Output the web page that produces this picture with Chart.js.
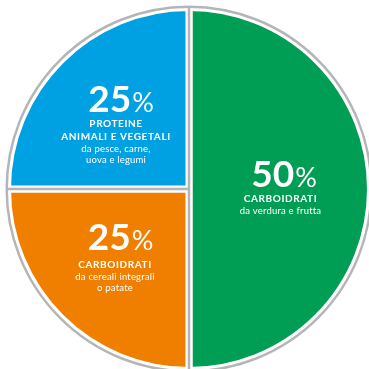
<!DOCTYPE html>
<html><head><meta charset="utf-8">
<script src="https://cdn.jsdelivr.net/npm/chart.js@4"></script>
<style>html,body{margin:0;padding:0;background:#fff;overflow:hidden}#wrap{width:369px;height:369px;position:relative}</style>
</head><body><div id="wrap"><canvas id="c"></canvas></div>
<script>
const categories = ['Carboidrati da verdura e frutta', 'Carboidrati da cereali integrali o patate', 'Proteine animali e vegetali'];
const values = [50, 25, 25];
const percentLabels = ['50', '25', '25'];
const titleLines = [['CARBOIDRATI'], ['CARBOIDRATI'], ['PROTEINE', 'ANIMALI E VEGETALI']];
const subLines = [['da verdura e frutta'], ['da cereali integrali', 'o patate'], ['da pesce, carne,', 'uova e legumi']];
const colors = ['#009e54', '#f07f00', '#00a1e2'];

// label layout (offsets from pie centre, px at reference size)
const labelLayout = [
  {numX: 95, numY: -2, textX: 91.5, title: [13], sub: [24.5]},
  {numX: -68.5, numY: 61, textX: -74, title: [79], sub: [91, 102]},
  {numX: -68, numY: -77, textX: -73, title: [-62, -49], sub: [-37, -26.5]}
];

const FONT = 'Lato, "Open Sans", sans-serif';

const decor = {
  id: 'decor',
  afterDatasetsDraw(chart) {
    const meta = chart.getDatasetMeta(0);
    const a0 = meta.data[0];
    const cx = a0.x, cy = a0.y, R = a0.outerRadius;
    const ctx = chart.ctx;
    ctx.save();
    ctx.strokeStyle = '#b5b5b5';
    ctx.lineWidth = 2.5;
    ctx.beginPath();
    ctx.arc(cx, cy, R + 0.8, 0, Math.PI * 2);
    ctx.stroke();
    ctx.lineCap = 'butt';
    meta.data.forEach(arc => {
      ctx.beginPath();
      ctx.moveTo(cx, cy);
      ctx.lineTo(cx + Math.cos(arc.startAngle) * (R + 1.5), cy + Math.sin(arc.startAngle) * (R + 1.5));
      ctx.stroke();
    });
    ctx.restore();
  },
  afterDraw(chart) {
    const meta = chart.getDatasetMeta(0);
    const a0 = meta.data[0];
    const cx = a0.x, cy = a0.y, s = a0.outerRadius / 181.5;
    const ctx = chart.ctx;
    ctx.save();
    ctx.fillStyle = '#ffffff';
    ctx.textBaseline = 'alphabetic';
    meta.data.forEach((arc, i) => {
      const L = labelLayout[i];
      // big number + %
      ctx.letterSpacing = '0px';
      ctx.font = 'bold 37px ' + FONT;
      const wNum = ctx.measureText(percentLabels[i]).width;
      ctx.font = '27px ' + FONT;
      const wPct = ctx.measureText('%').width;
      const total = wNum + 1 + wPct;
      const nx = cx + L.numX * s - total / 2, ny = cy + L.numY * s;
      ctx.textAlign = 'left';
      ctx.font = 'bold 37px ' + FONT;
      ctx.fillText(percentLabels[i], nx, ny);
      ctx.font = '27px ' + FONT;
      ctx.fillText('%', nx + wNum + 1, ny);
      ctx.textAlign = 'center';
      ctx.font = 'bold 10px ' + FONT;
      ctx.letterSpacing = '0.6px';
      titleLines[i].forEach((t, k) => ctx.fillText(t, cx + L.textX * s, cy + L.title[k] * s));
      ctx.font = '9.5px ' + FONT;
      ctx.letterSpacing = '0.2px';
      subLines[i].forEach((t, k) => ctx.fillText(t, cx + L.textX * s, cy + L.sub[k] * s));
    });
    ctx.restore();
  }
};

new Chart(document.getElementById('c'), {
  type: 'pie',
  data: {
    labels: categories,
    datasets: [{
      data: values,
      backgroundColor: colors,
      borderColor: '#ffffff',
      borderWidth: 7,
      radius: 181.5
    }]
  },
  options: {
    responsive: true,
    maintainAspectRatio: false,
    animation: false,
    layout: {padding: {left: 9, top: 9, right: 0, bottom: 0}},
    plugins: {legend: {display: false}, tooltip: {enabled: false}}
  },
  plugins: [decor]
});
</script>
</body></html>
